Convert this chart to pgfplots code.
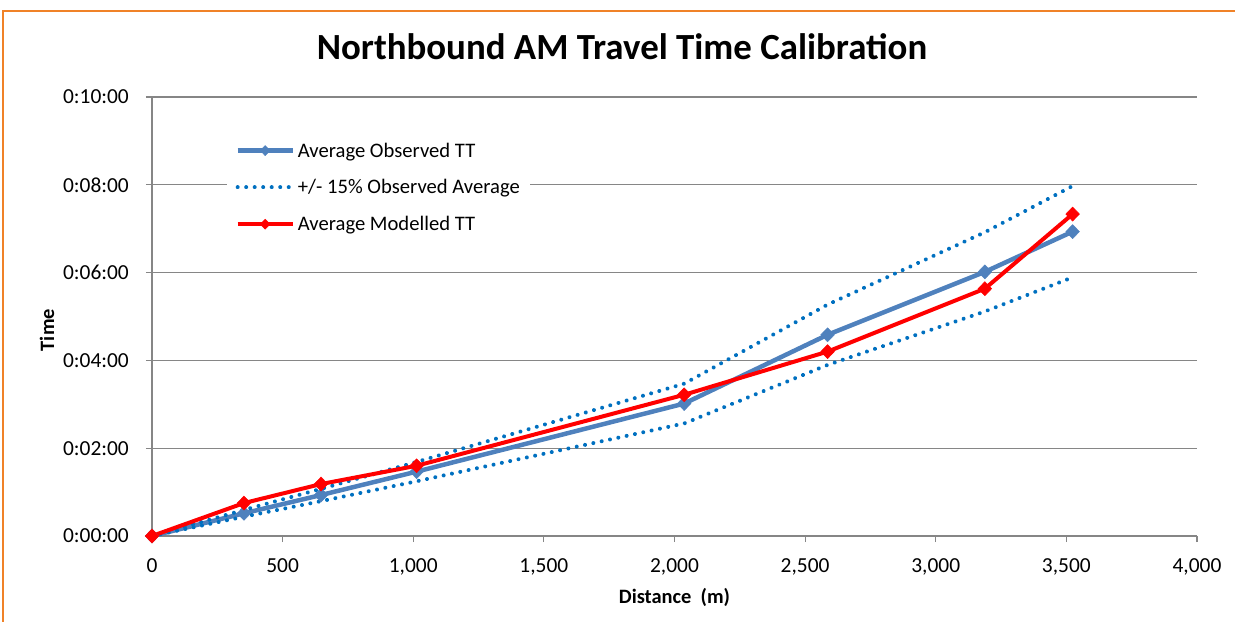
\documentclass[border=0pt]{standalone}
\usepackage{fontspec}
\setmainfont{Carlito}
\usepackage{pgfplots}
\pgfplotsset{compat=1.18}
\definecolor{obsblue}{RGB}{79,129,189}
\definecolor{dotblue}{RGB}{0,112,192}
\definecolor{frameorange}{RGB}{240,130,40}
\definecolor{gridgray}{RGB}{134,134,134}
\begin{document}
\begin{tikzpicture}
\useasboundingbox (0bp,0bp) rectangle (1235bp,622bp);
\draw[frameorange, line width=2bp] (3bp,-10bp) -- (3bp,611bp) -- (1245bp,611bp);
\node[font=\fontsize{37}{44}\selectfont\bfseries, anchor=base] at (622bp,562bp) {Northbound AM Travel Time Calibration};
\begin{axis}[
  at={(152bp,86bp)}, anchor=south west,
  scale only axis, width=1045bp, height=439bp,
  xmin=0, xmax=4000, ymin=0, ymax=600,
  clip=false,
  axis x line=bottom, axis y line=left,
  axis line style={draw=gridgray, line width=1.2bp, -},
  tick align=outside, major tick length=6bp,
  tick style={draw=gridgray, line width=1.2bp},
  ymajorgrids, grid style={draw=gridgray, line width=1.2bp},
  xtick={0,500,...,4000},
  ytick={0,120,240,360,480,600},
  yticklabels={0:00:00,0:02:00,0:04:00,0:06:00,0:08:00,0:10:00},
  scaled x ticks=false,
  xticklabel={\pgfmathprintnumber[1000 sep={,},fixed]{\tick}},
  /pgf/number format/assume math mode=true,
  ticklabel style={font=\fontsize{21.5}{25}\selectfont},
  yticklabel style={inner sep=0pt, xshift=-17bp},
  xticklabel style={inner sep=0pt, yshift=-16bp},
  xlabel={Distance\ \ (m)}, ylabel={Time},
  xlabel style={at={(axis description cs:0.5,-0.139)}, anchor=center, font=\fontsize{20.5}{24}\selectfont\bfseries},
  ylabel style={at={(axis description cs:-0.1005,0.469)}, anchor=center, font=\fontsize{20.5}{24}\selectfont\bfseries},
  legend cell align=left,
  legend style={draw=none, fill=white, at={(0.0718,0.91)}, anchor=north west,
    font=\fontsize{20.7}{24}\selectfont, row sep=17bp, inner xsep=8.2bp, inner ysep=4bp,
    /tikz/every odd column/.append style={column sep=1bp}},
  legend image code/.code={\draw[#1, mark repeat=2, mark phase=2, mark size=5bp] plot coordinates {(0bp,0bp) (27.5bp,0bp) (55bp,0bp)};},
]
\addplot[obsblue, line width=4.5bp, mark=diamond*, mark size=7bp, mark options={solid, line width=0.5bp, xscale=1.3}]
  coordinates {(0,0) (352,31) (647,56) (1013,88) (2037,181) (2586,275) (3188,361) (3524,416)};
\addlegendentry{Average Observed TT}
\addplot[dotblue, line width=4bp, line cap=round, dash pattern=on 0.01bp off 8.5bp]
  coordinates {(0,0) (352,35.65) (647,64.4) (1013,101.2) (2037,208.15) (2586,316.25) (3188,415.15) (3524,478.4)};
\addlegendentry{+/- 15\% Observed Average}
\addplot[dotblue, line width=4bp, line cap=round, dash pattern=on 0.01bp off 8.5bp, forget plot]
  coordinates {(0,0) (352,26.35) (647,47.6) (1013,74.8) (2037,153.85) (2586,233.75) (3188,306.85) (3524,353.6)};
\addplot[red, line width=4bp, mark=diamond*, mark size=7bp, mark options={solid, line width=0.5bp, xscale=1.3}]
  coordinates {(0,0) (352,45) (647,71) (1013,96) (2037,193) (2586,252) (3188,338) (3524,440)};
\addlegendentry{Average Modelled TT}
\end{axis}
\end{tikzpicture}
\end{document}
